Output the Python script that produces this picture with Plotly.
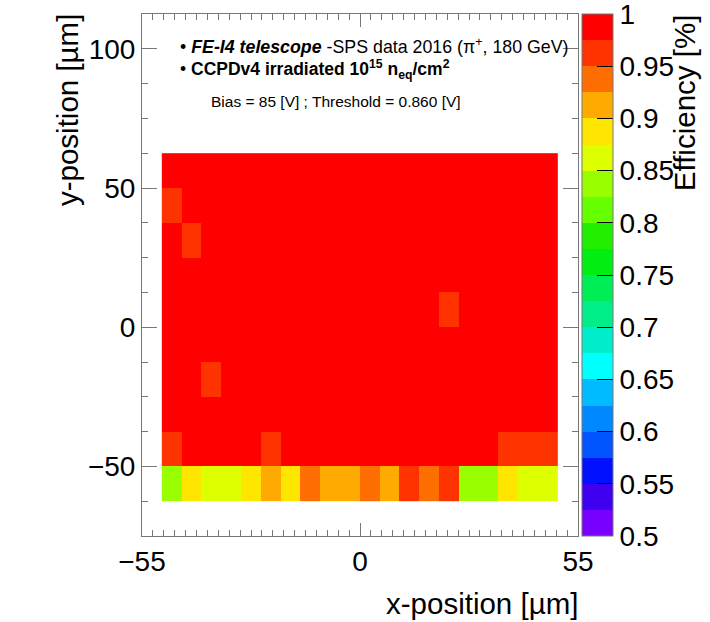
import plotly.graph_objects as go

# Bin edges of the efficiency map (x: 5 um bins, y: 12.5 um bins)
x_edges = [-50, -45, -40, -35, -30, -25, -20, -15, -10, -5, 0,
           5, 10, 15, 20, 25, 30, 35, 40, 45, 50]
y_edges = [-62.5, -50, -37.5, -25, -12.5, 0, 12.5, 25, 37.5, 50, 62.5]

# In-pixel efficiency, one list per y bin (bottom row first), 20 x bins each
eff_y_m56 = [0.838, 0.889, 0.862, 0.868, 0.884, 0.913, 0.893, 0.938, 0.911, 0.917,
             0.934, 0.908, 0.958, 0.941, 0.962, 0.842, 0.835, 0.881, 0.857, 0.866]
eff_y_m44 = [0.968, 0.987, 0.990, 0.985, 0.983, 0.971, 0.986, 0.991, 0.988, 0.984,
             0.989, 0.986, 0.982, 0.987, 0.985, 0.980, 0.979, 0.965, 0.969, 0.972]
eff_y_m31 = [0.992, 0.995, 0.993, 0.996, 0.994, 0.997, 0.995, 0.993, 0.996, 0.998,
             0.995, 0.994, 0.997, 0.993, 0.996, 0.995, 0.992, 0.994, 0.991, 0.990]
eff_y_m19 = [0.991, 0.994, 0.966, 0.995, 0.997, 0.996, 0.998, 0.995, 0.997, 0.996,
             0.998, 0.997, 0.995, 0.996, 0.994, 0.997, 0.995, 0.996, 0.993, 0.992]
eff_y_m06 = [0.993, 0.996, 0.995, 0.997, 0.998, 0.996, 0.997, 1.000, 0.998, 0.997,
             0.996, 0.998, 0.997, 0.995, 0.996, 0.998, 0.997, 0.995, 0.994, 0.993]
eff_y_p06 = [0.992, 0.995, 0.997, 0.996, 0.998, 0.997, 0.995, 0.998, 0.997, 0.999,
             0.997, 0.996, 0.998, 0.995, 0.963, 0.996, 0.997, 0.995, 0.996, 0.991]
eff_y_p19 = [0.990, 0.994, 0.996, 0.995, 0.997, 0.998, 0.996, 0.997, 0.999, 0.996,
             0.998, 0.997, 0.996, 0.998, 0.995, 0.997, 0.996, 0.994, 0.995, 0.992]
eff_y_p31 = [0.985, 0.967, 0.993, 0.995, 0.996, 0.994, 0.997, 0.995, 0.996, 0.998,
             0.996, 0.995, 0.997, 0.994, 0.996, 0.995, 0.993, 0.994, 0.992, 0.989]
eff_y_p44 = [0.964, 0.986, 0.991, 0.993, 0.992, 0.995, 0.994, 0.996, 0.993, 0.995,
             0.994, 0.996, 0.993, 0.995, 0.992, 0.994, 0.991, 0.990, 0.988, 0.986]
eff_y_p56 = [0.982, 0.985, 0.988, 0.986, 0.989, 0.987, 0.990, 0.988, 0.991, 0.989,
             0.990, 0.988, 0.989, 0.987, 0.990, 0.986, 0.988, 0.985, 0.984, 0.981]

eff_rows = [eff_y_m56, eff_y_m44, eff_y_m31, eff_y_m19, eff_y_m06,
            eff_y_p06, eff_y_p19, eff_y_p31, eff_y_p44, eff_y_p56]

# 20-step rainbow palette, violet (0.5) to red (1.0)
palette = ["#7700FF", "#4000F0", "#0011FF", "#0055FF", "#0088FF",
           "#00BBFF", "#00FFFF", "#00EECC", "#00EE88", "#00EE55",
           "#00EE11", "#22EE00", "#66FF00", "#99FF00", "#DDFF00",
           "#FFE600", "#FFAA00", "#FF6E00", "#FF3300", "#FF0000"]
colorscale = []
for i, c in enumerate(palette):
    colorscale.append([i / len(palette), c])
    colorscale.append([(i + 1) / len(palette), c])

# colour-bar labels; the top one sits a hair below 1 so it is not culled
cbar_vals = [0.5, 0.55, 0.6, 0.65, 0.7, 0.75, 0.8, 0.85, 0.9, 0.95, 0.99999]
cbar_text = ["0.5", "0.55", "0.6", "0.65", "0.7", "0.75", "0.8", "0.85", "0.9", "0.95", "1"]

FONT = "Liberation Sans, Arial, Helvetica, sans-serif"
FRAME = "#777777"

fig = go.Figure(go.Heatmap(
    x=x_edges, y=y_edges, z=eff_rows,
    zmin=0.5, zmax=1.0, colorscale=colorscale, zsmooth=False,
    colorbar=dict(
        x=1.0092, xanchor="left", y=0.5, yanchor="middle",
        len=1.0, lenmode="fraction", thickness=31, thicknessmode="pixels",
        xpad=0, ypad=0, outlinewidth=1, outlinecolor=FRAME,
        tickvals=cbar_vals, ticktext=cbar_text,
        ticks="inside", ticklen=16, tickwidth=1, tickcolor="black",
        ticklabeloverflow="allow",
        tickfont=dict(family=FONT, size=28, color="black"),
    ),
))

fig.update_layout(
    width=710, height=622, autosize=False,
    margin=dict(l=142, r=132, t=14, b=86),
    paper_bgcolor="white", plot_bgcolor="white",
    font=dict(family=FONT, color="black"),
    showlegend=False,
)

fig.update_xaxes(
    range=[-55, 55], tickvals=[-55, 0, 55],
    ticks="inside", ticklen=13, tickwidth=1, tickcolor=FRAME,
    showline=True, linecolor=FRAME, linewidth=1, mirror="ticks",
    showgrid=False, zeroline=False,
    tickfont=dict(family=FONT, size=28, color="black"),
    minor=dict(tick0=-55, dtick=2.75, ticks="inside", ticklen=6,
               tickcolor=FRAME, showgrid=False),
)
fig.update_yaxes(
    range=[-75, 112.5], tickvals=[-50, 0, 50, 100],
    ticks="inside", ticklen=15, tickwidth=1, tickcolor=FRAME,
    showline=True, linecolor=FRAME, linewidth=1, mirror="ticks",
    showgrid=False, zeroline=False,
    tickfont=dict(family=FONT, size=28, color="black"),
    minor=dict(tick0=-75, dtick=12.5, ticks="inside", ticklen=6,
               tickcolor=FRAME, showgrid=False),
)

annotations = [
    # axis titles
    dict(text="y-position [µm]", xref="paper", yref="paper",
         x=-0.172, y=0.816, textangle=-90, showarrow=False,
         xanchor="center", yanchor="middle",
         font=dict(family=FONT, size=29.5, color="black")),
    dict(text="x-position [µm]", xref="paper", yref="paper",
         x=0.7787, y=-0.13, showarrow=False,
         xanchor="center", yanchor="middle",
         font=dict(family=FONT, size=29.5, color="black")),
    dict(text="Efficiency [%]", xref="paper", yref="paper",
         x=1.243, y=0.831, textangle=-90, showarrow=False,
         xanchor="center", yanchor="middle",
         font=dict(family=FONT, size=29.5, color="black")),
    # legend-style text block
    dict(text="• <b><i>FE-I4 telescope</i></b> -SPS data 2016 (π<sup>+</sup>, 180 GeV)",
         xref="x", yref="y", x=-45.9, y=101.0, showarrow=False,
         xanchor="left", yanchor="middle",
         font=dict(family=FONT, size=17.8, color="black")),
    dict(text="• <b>CCPDv4 irradiated 10<sup>15</sup> n<sub>eq</sub>/cm<sup>2</sup></b>",
         xref="x", yref="y", x=-45.9, y=92.7, showarrow=False,
         xanchor="left", yanchor="middle",
         font=dict(family=FONT, size=17.5, color="black")),
    dict(text="Bias = 85 [V] ; Threshold = 0.860 [V]",
         xref="x", yref="y", x=-38.1, y=81.25, showarrow=False,
         xanchor="left", yanchor="middle",
         font=dict(family=FONT, size=15.5, color="black")),
]
fig.update_layout(annotations=annotations)

fig.write_html("out.html")
